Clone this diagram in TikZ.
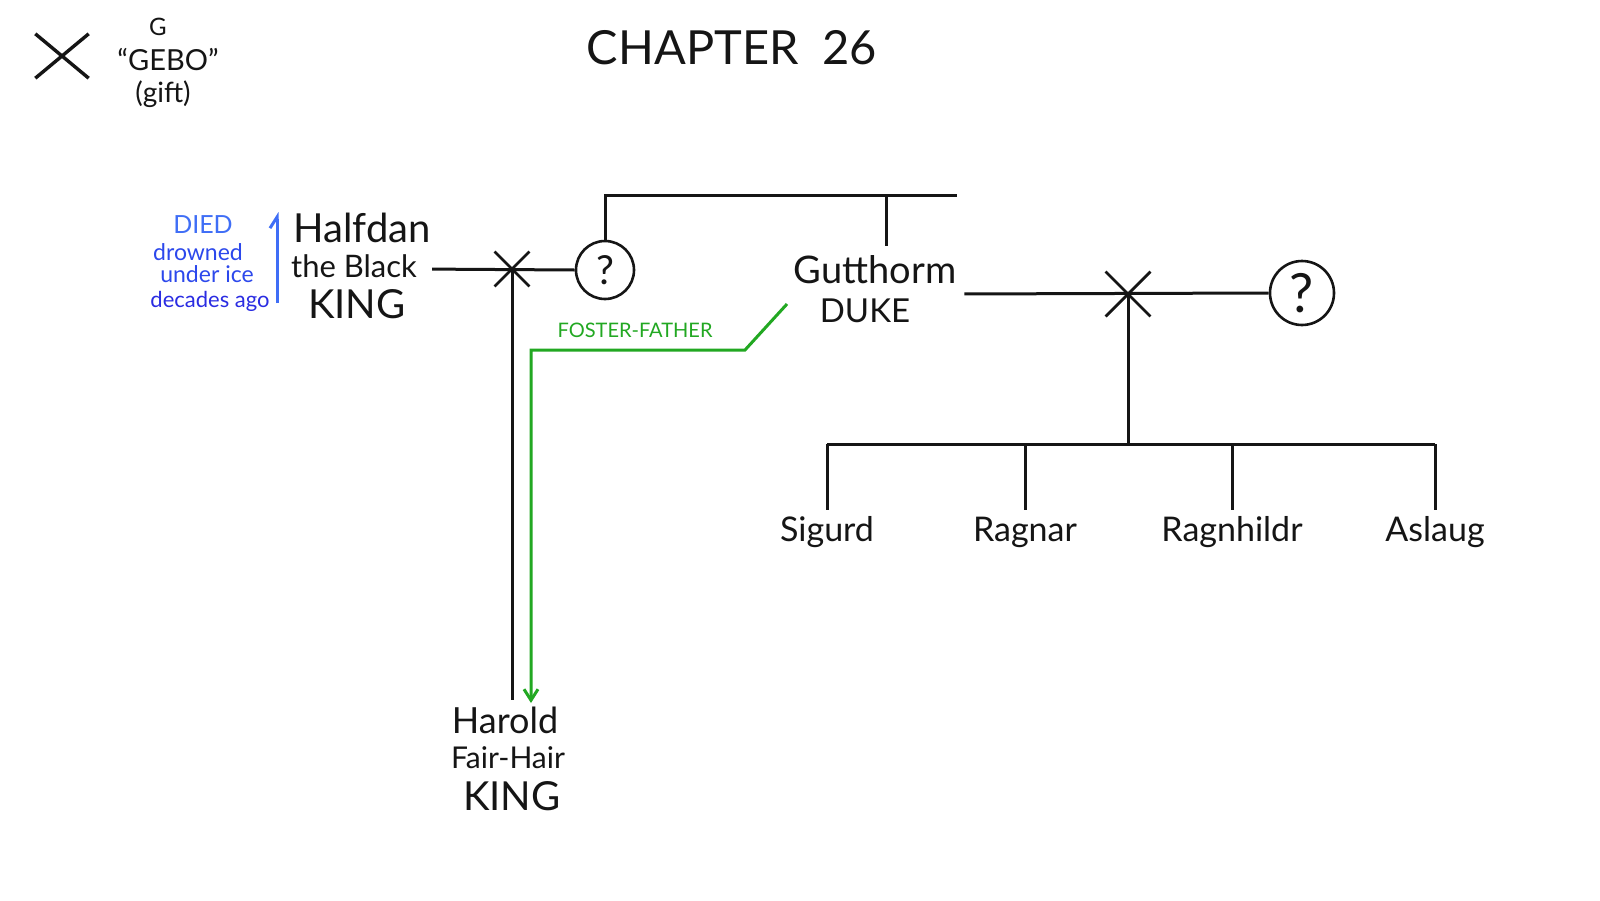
\documentclass[tikz,border=0pt]{standalone}
\usepackage{fontspec}
\setmainfont{Lato}
\usetikzlibrary{arrows.meta,positioning,shapes.misc}
\usepackage{xcolor}
\definecolor{ink}{HTML}{151515}
\definecolor{diedBlue}{HTML}{3F6EF6}
\definecolor{noteBlue}{HTML}{2C48EC}
\definecolor{agoBlue}{HTML}{2A2CE2}
\definecolor{fosterGreen}{HTML}{22A822}
\newcommand{\fs}[1]{\fontsize{#1}{#1}\selectfont}
\tikzset{
  base/.style={text=ink, inner sep=0pt, anchor=base},
  person/.style={base, font=\fs{40}},
  epithet/.style={base, font=\fs{31}},
  child/.style={base, font=\fs{34}},
  runeText/.style={base, font=\fs{28}},
  note/.style={base, text=noteBlue, font=\fs{23}},
  tie/.style={draw=ink, line width=3pt},
  wed/.style={cross out, draw=ink, line width=2.8pt, minimum size=32pt, inner sep=0pt},
  unknown/.style={circle, draw=ink, line width=2.6pt, inner sep=0pt, text=ink},
  foster/.style={-{Straight Barb[length=11pt,width=14pt]}, draw=fosterGreen, line width=3pt},
  died/.style={-{Straight Barb[left,length=11pt,width=14pt]}, draw=diedBlue, line width=3pt},
}

\begin{document}
\begin{tikzpicture}[x=1pt,y=-1pt]
  \useasboundingbox (0,0) rectangle (1600,900);
  \fill[white] (0,0) rectangle (1600,900);

  \node[cross out, draw=ink, line width=3.4pt, minimum width=50pt, minimum height=41pt, inner sep=0pt] (gebo) at (62,56) {};
  \node[runeText, font=\fs{24}] (runeLetter) at (158,35) {G};
  \node[runeText, font=\fs{29}] (runeName) at (168,70) {``GEBO''};
  \node[runeText] (runeMeaning) at (163,102) {(gift)};

  \node[base, font=\fs{47}] (title) at (732,64) {CHAPTER\ \ 26};

  \node[note, text=diedBlue, font=\fs{25}] (died) at (203,233) {DIED};
  \node[note] (drowned) at (198,260) {drowned};
  \node[note] (underIce) at (207,282) {under ice};
  \node[note, text=agoBlue, font=\fs{22}] (ago) at (210,307) {decades ago};
  \coordinate (diedLow) at (277,303);
  \coordinate (diedHigh) at (277,212);
  \draw[died] (diedLow) -- (diedHigh);

  \node[person] (halfdan) at (362,242) {Halfdan};
  \node[epithet] (halfdanEpi) at (354,277) {the Black};
  \node[person] (halfdanTitle) at (357,318) {KING};

  \node[wed] (wedA) at (512,269) {};
  \node[unknown, minimum size=58pt, font=\fs{40}] (wifeA) at (605,270) {?};
  \draw[tie, shorten <=15pt] (wedA.center -| halfdanEpi.east) -- (wifeA.west);

  \coordinate (sibRight) at (957,195);
  \coordinate (gutTop) at (886,195);
  \draw[tie] (wifeA.north) |- (sibRight);

  \node[person, font=\fs{38}] (gutthorm) at (875,283) {Gutthorm};
  \node[person, font=\fs{33}] (gutTitle) at (865,322) {DUKE};
  \draw[tie, shorten >=9pt] (gutTop) -- (gutTop |- gutthorm.north);

  \node[wed, minimum size=42pt] (wedB) at (1128,294) {};
  \node[unknown, minimum size=64pt, font=\fs{54}] (wifeB) at (1302,293) {?};
  \draw[tie, shorten <=8pt] (wedB.center -| gutthorm.east) -- (wifeB.west);

  \node[person, font=\fs{36}] (harold) at (505,733) {Harold};
  \node[epithet, font=\fs{30}] (haroldEpi) at (508,768) {Fair-Hair};
  \node[person] (haroldTitle) at (512,810) {KING};
  \draw[tie, shorten >=6pt] (wedA.center) -- (wedA.center |- harold.north);

  \coordinate (fosterStart) at (787,304);
  \coordinate (fosterBend) at (745,350);
  \coordinate (fosterEnd) at (531,703);
  \draw[foster] (fosterStart) -- (fosterBend) -- (fosterBend -| fosterEnd) -- (fosterEnd);
  \node[base, text=fosterGreen, font=\fs{20}] (fosterLabel) at (635,337) {FOSTER-FATHER};

  \node[child] (sigurd) at (827,541) {Sigurd};
  \node[child] (ragnar) at (1025,541) {Ragnar};
  \node[child] (ragnhildr) at (1232,541) {Ragnhildr};
  \node[child] (aslaug) at (1435,541) {Aslaug};
  \coordinate (kinBar) at (1128,444);
  \draw[tie] (wedB.center) -- (kinBar);
  \draw[tie] (sigurd.north |- kinBar) -- (aslaug.north |- kinBar);
  \draw[tie, shorten >=6pt] (sigurd.north |- kinBar) -- (sigurd.north);
  \draw[tie, shorten >=6pt] (ragnar.north |- kinBar) -- (ragnar.north);
  \draw[tie, shorten >=6pt] (ragnhildr.north |- kinBar) -- (ragnhildr.north);
  \draw[tie, shorten >=6pt] (aslaug.north |- kinBar) -- (aslaug.north);
\end{tikzpicture}
\end{document}
